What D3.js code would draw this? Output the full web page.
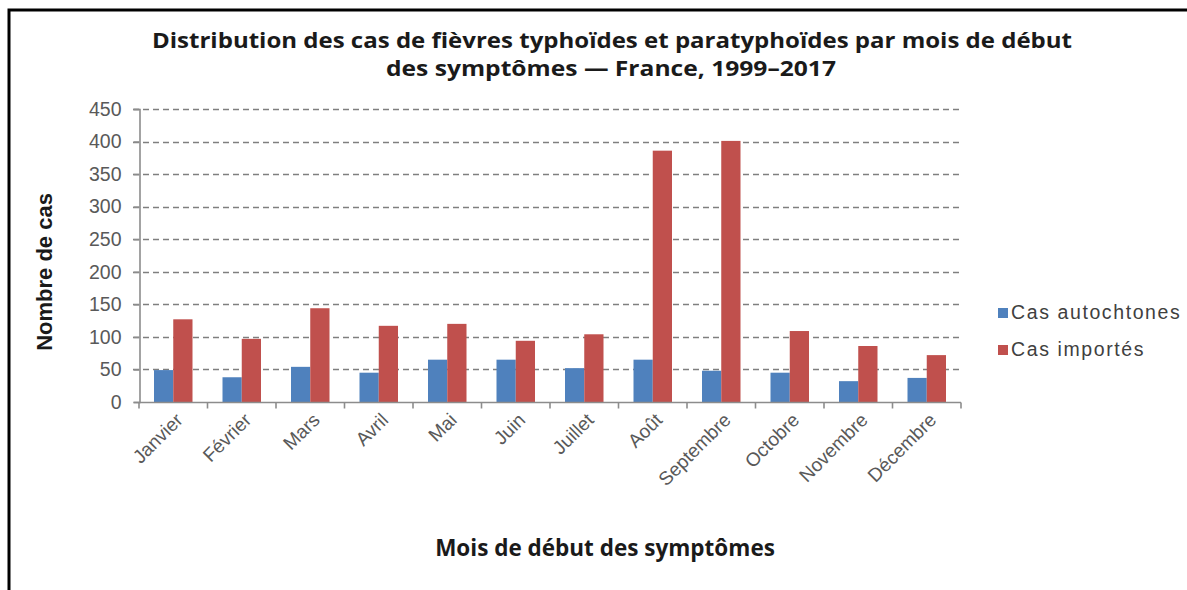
<!DOCTYPE html>
<html>
<head>
<meta charset="utf-8">
<script src="https://cdn.jsdelivr.net/npm/d3@7"></script>
<style>
  html, body { margin: 0; padding: 0; background: #fff; }
  svg { display: block; }
</style>
</head>
<body>
<svg id="chart" width="1187" height="590"></svg>
<script>
// Monthly case counts, France 1999–2017
const months = ["Janvier", "Février", "Mars", "Avril", "Mai", "Juin",
                "Juillet", "Août", "Septembre", "Octobre", "Novembre", "Décembre"];
const autochtones = [49, 38, 54, 45, 65, 65, 52, 65, 48, 45, 32, 37];
const importes = [127, 97, 144, 117, 120, 94, 104, 386, 401, 109, 86, 72];
const seriesNames = ["Cas autochtones", "Cas importés"];
const seriesColors = ["#4F81BD", "#C0504D"];
const yTicks = [0, 50, 100, 150, 200, 250, 300, 350, 400, 450];

const svg = d3.select("#chart");

// Frame lines (top and left)
svg.append("path")
  .attr("d", "M9,590 V10 H1187")
  .attr("fill", "none")
  .attr("stroke", "#000")
  .attr("stroke-width", 3);

const plot = { left: 139, right: 961, top: 109, bottom: 402 };

const x = d3.scaleBand()
  .domain(months)
  .range([plot.left, plot.right])
  .paddingInner(0)
  .paddingOuter(0);

const y = d3.scaleLinear()
  .domain([0, 450])
  .range([plot.bottom, plot.top]);

// Dashed horizontal gridlines
svg.append("g")
  .selectAll("line")
  .data(yTicks.filter(d => d > 0))
  .join("line")
  .attr("x1", plot.left - 6)
  .attr("x2", plot.right)
  .attr("y1", d => Math.round(y(d)) + 0.5)
  .attr("y2", d => Math.round(y(d)) + 0.5)
  .attr("stroke", "#7f7f7f")
  .attr("stroke-width", 1.6)
  .attr("stroke-dasharray", "6,4");

// Bars
const inset = 15;
const barW = (x.bandwidth() - 2 * inset) / 2;
const series = [autochtones, importes];
series.forEach((vals, si) => {
  svg.append("g")
    .selectAll("rect")
    .data(months.map((m, i) => ({ m, v: vals[i] })))
    .join("rect")
    .attr("x", d => x(d.m) + inset + si * barW)
    .attr("y", d => y(d.v))
    .attr("width", barW)
    .attr("height", d => y(0) - y(d.v))
    .attr("fill", seriesColors[si]);
});

const labelFont = "'Liberation Sans', Arial, sans-serif";

// Y axis
const yAxis = d3.axisLeft(y).tickValues(yTicks).tickSize(6).tickPadding(12);
const gy = svg.append("g")
  .attr("transform", `translate(${plot.left + 0.5},0)`)
  .call(yAxis);
gy.select(".domain").attr("stroke", "#8c8c8c").attr("stroke-width", 1.6);
gy.selectAll(".tick line").attr("stroke", "#8c8c8c").attr("stroke-width", 1.6);
gy.selectAll(".tick text")
  .attr("fill", "#595959")
  .style("font-family", labelFont)
  .style("font-size", "19.5px");

// X axis with boundary ticks
const gx = svg.append("g")
  .attr("transform", `translate(0,${plot.bottom + 0.5})`);
gx.append("line")
  .attr("x1", plot.left).attr("x2", plot.right)
  .attr("stroke", "#8c8c8c").attr("stroke-width", 1.6);
gx.selectAll("line.tk")
  .data(months.concat(["_end"]))
  .join("line")
  .attr("class", "tk")
  .attr("x1", (d, i) => i < months.length ? x(d) : plot.right)
  .attr("x2", (d, i) => i < months.length ? x(d) : plot.right)
  .attr("y1", 0).attr("y2", 6)
  .attr("stroke", "#8c8c8c").attr("stroke-width", 1.6);
gx.selectAll("text")
  .data(months)
  .join("text")
  .attr("transform", d => `translate(${x(d) + x.bandwidth() / 2 + 6},${14}) rotate(-45)`)
  .attr("text-anchor", "end")
  .attr("dy", "0.35em")
  .attr("fill", "#595959")
  .style("font-family", labelFont)
  .style("font-size", "19px")
  .text(d => d);

// Titles
const titleFont = "'Open Sans', 'Liberation Sans', sans-serif";
svg.append("text")
  .attr("x", 612).attr("y", 48)
  .attr("text-anchor", "middle")
  .attr("textLength", 920)
  .attr("lengthAdjust", "spacingAndGlyphs")
  .style("font-family", titleFont).style("font-weight", "bold").style("font-size", "22px")
  .attr("fill", "#1a1a1a")
  .text("Distribution des cas de fièvres typhoïdes et paratyphoïdes par mois de début");
svg.append("text")
  .attr("x", 611).attr("y", 76)
  .attr("text-anchor", "middle")
  .attr("textLength", 450)
  .attr("lengthAdjust", "spacingAndGlyphs")
  .style("font-family", titleFont).style("font-weight", "bold").style("font-size", "22px")
  .attr("fill", "#1a1a1a")
  .text("des symptômes  — France, 1999–2017");

svg.append("text")
  .attr("x", 605).attr("y", 556)
  .attr("text-anchor", "middle")
  .style("font-family", titleFont).style("font-weight", "bold").style("font-size", "22.5px")
  .attr("fill", "#1a1a1a")
  .text("Mois de début des symptômes");

svg.append("text")
  .attr("transform", "translate(52,272) rotate(-90)")
  .attr("text-anchor", "middle")
  .style("font-family", labelFont).style("font-weight", "bold").style("font-size", "22px")
  .attr("fill", "#1a1a1a")
  .text("Nombre de cas");

// Legend
const legend = svg.append("g").attr("transform", "translate(998,319)");
seriesNames.forEach((name, i) => {
  const g = legend.append("g").attr("transform", `translate(0,${i * 37})`);
  g.append("rect").attr("x", 0).attr("y", -11).attr("width", 10).attr("height", 10)
    .attr("fill", seriesColors[i]);
  g.append("text").attr("x", 13).attr("y", 0)
    .style("font-family", labelFont).style("font-size", "19.5px")
    .style("letter-spacing", "1.6px")
    .attr("fill", "#404040")
    .text(name);
});
</script>
</body>
</html>
